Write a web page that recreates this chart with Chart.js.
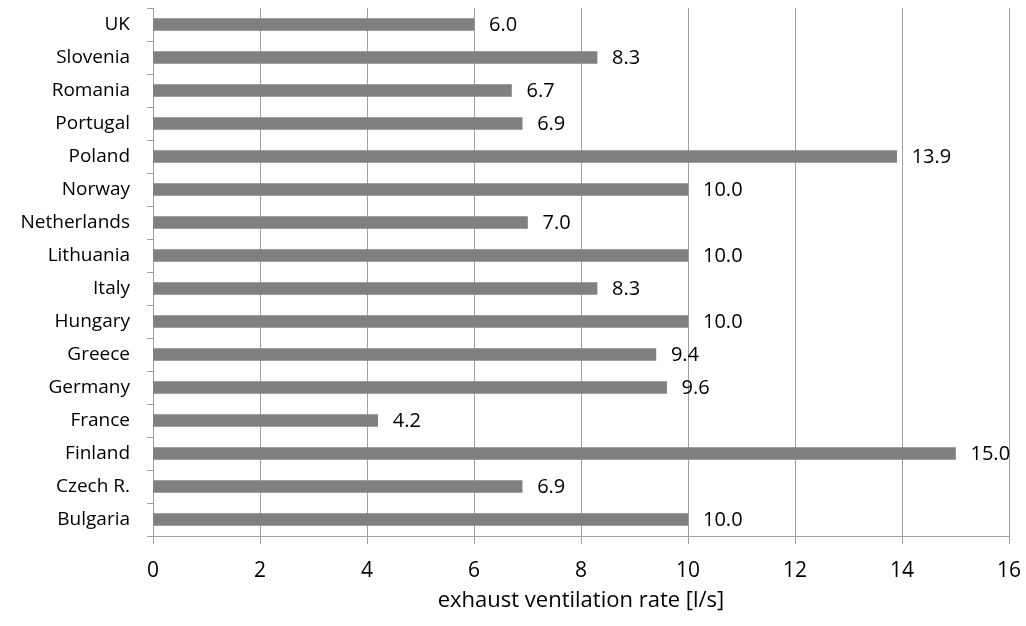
<!DOCTYPE html>
<html>
<head>
<meta charset="utf-8">
<script src="https://cdn.jsdelivr.net/npm/chart.js@4/dist/chart.umd.min.js"></script>
<style>
html,body{margin:0;padding:0;background:#fff;}
#wrap{width:1026px;height:626px;position:relative;}
</style>
</head>
<body>
<div id="wrap"><canvas id="c" width="1026" height="626"></canvas></div>
<script>
const categories = ["UK","Slovenia","Romania","Portugal","Poland","Norway","Netherlands","Lithuania","Italy","Hungary","Greece","Germany","France","Finland","Czech R.","Bulgaria"];
const values = [6.0, 8.3, 6.7, 6.9, 13.9, 10.0, 7.0, 10.0, 8.3, 10.0, 9.4, 9.6, 4.2, 15.0, 6.9, 10.0];
const xTicks = [0, 2, 4, 6, 8, 10, 12, 14, 16];
const xTitle = "exhaust ventilation rate [l/s]";

const FONT = "'Open Sans', 'DejaVu Sans', sans-serif";
const GRID = '#a0a0a0';

const valueLabels = {
  id: 'valueLabels',
  afterDatasetsDraw(chart) {
    const ctx = chart.ctx;
    const meta = chart.getDatasetMeta(0);
    ctx.save();
    ctx.font = "20px " + FONT;
    ctx.fillStyle = '#000';
    ctx.textAlign = 'left';
    ctx.textBaseline = 'middle';
    meta.data.forEach((bar, i) => {
      ctx.fillText(values[i].toFixed(1), bar.x + 15, bar.y + 1);
    });
    ctx.restore();
  }
};

new Chart(document.getElementById('c'), {
  type: 'bar',
  data: {
    labels: categories,
    datasets: [{
      data: values,
      backgroundColor: '#808080',
      borderWidth: 0,
      barThickness: 12
    }]
  },
  options: {
    indexAxis: 'y',
    responsive: false,
    animation: false,
    devicePixelRatio: 1,
    layout: { padding: { left: 0, right: 17, top: 8, bottom: 0 } },
    plugins: { legend: { display: false }, tooltip: { enabled: false } },
    scales: {
      x: {
        type: 'linear',
        min: 0, max: 16,
        afterBuildTicks(scale) { scale.ticks = xTicks.map(v => ({ value: v })); },
        afterFit(scale) { scale.height = 90; scale.paddingLeft = 0; scale.paddingRight = 0; },
        grid: { color: GRID, lineWidth: 1, tickLength: 8, drawTicks: true },
        border: { color: GRID, width: 1 },
        ticks: { color: '#000', font: { family: FONT, size: 21 }, padding: 14 },
        title: { display: true, text: xTitle, color: '#000', font: { family: FONT, size: 22 }, padding: { top: 4, bottom: 12 } }
      },
      y: {
        type: 'category',
        afterFit(scale) { scale.width = 153; scale.paddingTop = 0; scale.paddingBottom = 0; },
        grid: { display: true, drawOnChartArea: false, drawTicks: true, tickLength: 6, color: GRID, offset: true },
        border: { color: GRID, width: 1 },
        ticks: { color: '#000', font: { family: FONT, size: 19 }, padding: 17 }
      }
    }
  },
  plugins: [valueLabels]
});
</script>
</body>
</html>
